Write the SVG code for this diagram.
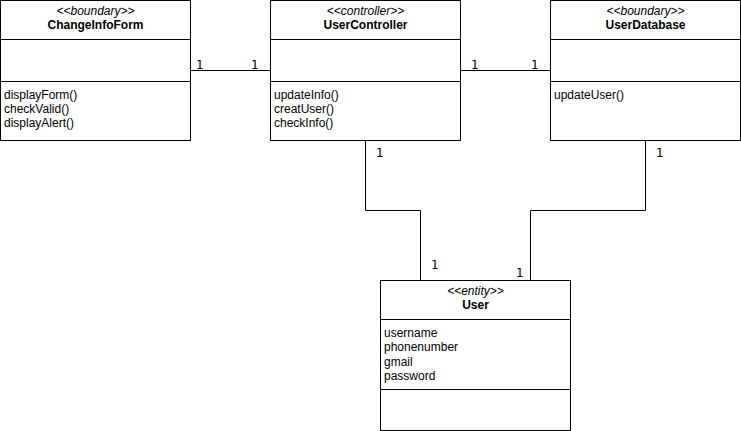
<svg xmlns="http://www.w3.org/2000/svg" width="741" height="431" viewBox="0 0 741 431">
<style>
.box{fill:#fff;stroke:#000;stroke-width:1}
.ln{stroke:#000;stroke-width:1;fill:none}
text{font-family:"Liberation Sans",Arial,sans-serif;font-size:12px;fill:#000}
.st{font-style:italic;text-anchor:middle}
.ti{font-weight:bold;text-anchor:middle}
.lb{font-family:"DejaVu Sans",sans-serif;font-size:12px}
</style>
<rect width="741" height="431" fill="#fff"/>
<g id="connectors">
<path class="ln" d="M190.5 70.5H270.5"/>
<path class="ln" d="M460.5 70.5H550.5"/>
<path class="ln" d="M365.5 140.5V210.5H420.5V280.5"/>
<path class="ln" d="M645.5 140.5V210.5H530.5V280.5"/>
<text class="lb" x="196" y="69">1</text>
<text class="lb" x="251" y="69">1</text>
<text class="lb" x="471" y="69">1</text>
<text class="lb" x="531" y="69">1</text>
<text class="lb" x="376" y="157">1</text>
<text class="lb" x="656" y="157">1</text>
<text class="lb" x="431" y="269">1</text>
<text class="lb" x="516" y="277">1</text>
</g>
<g id="ChangeInfoForm">
<rect class="box" x="0.5" y="0.5" width="190" height="140"/>
<path class="ln" d="M0.5 39.5H190.5M0.5 81.5H190.5"/>
<text class="st" x="95.5" y="15">&lt;&lt;boundary&gt;&gt;</text>
<text class="ti" x="95.5" y="29">ChangeInfoForm</text>
<text x="4" y="99">displayForm()</text>
<text x="4" y="113">checkValid()</text>
<text x="4" y="127">displayAlert()</text>
</g>
<g id="UserController">
<rect class="box" x="270.5" y="0.5" width="190" height="140"/>
<path class="ln" d="M270.5 39.5H460.5M270.5 81.5H460.5"/>
<text class="st" x="365.5" y="15">&lt;&lt;controller&gt;&gt;</text>
<text class="ti" x="365.5" y="29">UserController</text>
<text x="274" y="99">updateInfo()</text>
<text x="274" y="113">creatUser()</text>
<text x="274" y="127">checkInfo()</text>
</g>
<g id="UserDatabase">
<rect class="box" x="550.5" y="0.5" width="190" height="140"/>
<path class="ln" d="M550.5 39.5H740.5M550.5 81.5H740.5"/>
<text class="st" x="645.5" y="15">&lt;&lt;boundary&gt;&gt;</text>
<text class="ti" x="645.5" y="29">UserDatabase</text>
<text x="554" y="99">updateUser()</text>
</g>
<g id="User">
<rect class="box" x="380.5" y="280.5" width="190" height="150"/>
<path class="ln" d="M380.5 319.5H570.5M380.5 389.5H570.5"/>
<text class="st" x="475.5" y="295">&lt;&lt;entity&gt;&gt;</text>
<text class="ti" x="475.5" y="309">User</text>
<text x="384" y="337">username</text>
<text x="384" y="351">phonenumber</text>
<text x="384" y="366">gmail</text>
<text x="384" y="380">password</text>
</g>
</svg>
